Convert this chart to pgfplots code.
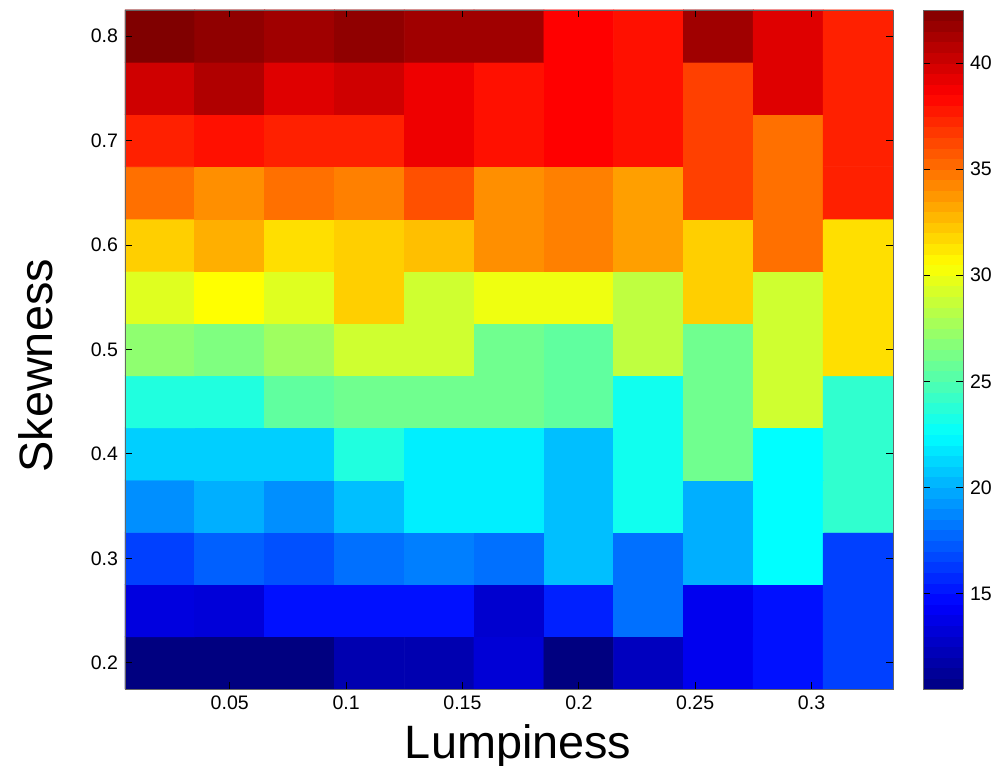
\documentclass[border=0pt]{standalone}
\usepackage{fontspec}
\setmainfont{Liberation Sans}
\usepackage{pgfplots}
\pgfplotsset{compat=1.18}

\begin{document}
\begin{tikzpicture}
\begin{axis}[
    name=ax, at={(0,0)}, anchor=south west,
    width=384bp, height=339.5bp, scale only axis,
    xmin=0.005, xmax=0.335, ymin=0.175, ymax=0.825,
    enlargelimits=false,
    axis on top,
    colormap/jet,
    point meta min=10.5, point meta max=42.5,
    xtick={0.05,0.1,0.15,0.2,0.25,0.3},
    ytick={0.2,0.3,0.4,0.5,0.6,0.7,0.8},
    scaled ticks=false,
    tick align=inside, major tick length=3.5bp,
    axis line style={black!60},
    tick style={black, line width=0.5pt},
    /pgf/number format/fixed,
    /pgf/number format/precision=2,
    /pgf/number format/assume math mode=true,
    tick label style={font=\fontsize{9.8}{11}\selectfont},
    xlabel={Lumpiness}, ylabel={Skewness},
    label style={font=\fontsize{23.5}{26}\selectfont},
    xlabel style={at={(axis description cs:0.512,0)}, anchor=base, yshift=-34.5bp},
    ylabel style={at={([xshift=-36bp]axis description cs:0,0.476)}, anchor=base},
    colorbar sampled,
    colorbar style={
        samples=65,
        at={(parent axis.north east)}, anchor=north west, xshift=6.5bp,
        width=20bp,
        ytick={15,20,25,30,35,40},
        scaled ticks=false,
        ytick pos=both, yticklabel pos=right,
        tick align=inside, major tick length=3.5bp,
        axis line style={black!60},
        axis on top,
        /pgf/number format/fixed,
        /pgf/number format/assume math mode=true,
        yticklabel style={font=\fontsize{9.8}{11}\selectfont},
    },
]
\addplot [matrix plot*, mesh/cols=11, point meta=\thisrow{z}] table [row sep=\\] {
x y z\\
0.02 0.20 10.5\\ 0.05 0.20 10.5\\ 0.08 0.20 10.5\\ 0.11 0.20 12.0\\ 0.14 0.20 12.0\\ 0.17 0.20 13.2\\ 0.20 0.20 10.5\\ 0.23 0.20 12.5\\ 0.26 0.20 14.0\\ 0.29 0.20 15.0\\ 0.32 0.20 16.5\\
0.02 0.25 13.5\\ 0.05 0.25 13.3\\ 0.08 0.25 15.0\\ 0.11 0.25 15.0\\ 0.14 0.25 15.0\\ 0.17 0.25 13.0\\ 0.20 0.25 15.5\\ 0.23 0.25 18.0\\ 0.26 0.25 14.0\\ 0.29 0.25 15.0\\ 0.32 0.25 16.5\\
0.02 0.30 16.5\\ 0.05 0.30 17.5\\ 0.08 0.30 17.0\\ 0.11 0.30 18.0\\ 0.14 0.30 18.5\\ 0.17 0.30 18.0\\ 0.20 0.30 20.5\\ 0.23 0.30 18.0\\ 0.26 0.30 20.0\\ 0.29 0.30 22.5\\ 0.32 0.30 16.5\\
0.02 0.35 19.0\\ 0.05 0.35 20.0\\ 0.08 0.35 19.0\\ 0.11 0.35 20.5\\ 0.14 0.35 22.0\\ 0.17 0.35 22.0\\ 0.20 0.35 20.5\\ 0.23 0.35 23.0\\ 0.26 0.35 20.0\\ 0.29 0.35 22.5\\ 0.32 0.35 24.0\\
0.02 0.40 21.0\\ 0.05 0.40 21.0\\ 0.08 0.40 21.0\\ 0.11 0.40 23.5\\ 0.14 0.40 22.0\\ 0.17 0.40 22.0\\ 0.20 0.40 20.5\\ 0.23 0.40 23.0\\ 0.26 0.40 26.0\\ 0.29 0.40 22.5\\ 0.32 0.40 24.0\\
0.02 0.45 23.5\\ 0.05 0.45 23.5\\ 0.08 0.45 25.5\\ 0.11 0.45 26.0\\ 0.14 0.45 26.0\\ 0.17 0.45 26.0\\ 0.20 0.45 25.5\\ 0.23 0.45 23.0\\ 0.26 0.45 26.0\\ 0.29 0.45 29.0\\ 0.32 0.45 24.0\\
0.02 0.50 27.0\\ 0.05 0.50 26.5\\ 0.08 0.50 27.5\\ 0.11 0.50 29.0\\ 0.14 0.50 29.0\\ 0.17 0.50 26.0\\ 0.20 0.50 25.5\\ 0.23 0.50 28.5\\ 0.26 0.50 26.0\\ 0.29 0.50 29.0\\ 0.32 0.50 31.5\\
0.02 0.55 29.5\\ 0.05 0.55 30.5\\ 0.08 0.55 29.5\\ 0.11 0.55 32.0\\ 0.14 0.55 29.0\\ 0.17 0.55 30.0\\ 0.20 0.55 30.0\\ 0.23 0.55 28.5\\ 0.26 0.55 32.0\\ 0.29 0.55 29.0\\ 0.32 0.55 31.5\\
0.02 0.60 32.0\\ 0.05 0.60 33.0\\ 0.08 0.60 31.5\\ 0.11 0.60 32.0\\ 0.14 0.60 32.5\\ 0.17 0.60 34.0\\ 0.20 0.60 34.5\\ 0.23 0.60 33.5\\ 0.26 0.60 32.0\\ 0.29 0.60 35.0\\ 0.32 0.60 31.5\\
0.02 0.65 35.0\\ 0.05 0.65 34.0\\ 0.08 0.65 35.0\\ 0.11 0.65 34.5\\ 0.14 0.65 36.0\\ 0.17 0.65 34.0\\ 0.20 0.65 34.5\\ 0.23 0.65 33.5\\ 0.26 0.65 36.5\\ 0.29 0.65 35.0\\ 0.32 0.65 37.5\\
0.02 0.70 37.5\\ 0.05 0.70 38.0\\ 0.08 0.70 37.5\\ 0.11 0.70 37.5\\ 0.14 0.70 39.0\\ 0.17 0.70 38.0\\ 0.20 0.70 38.5\\ 0.23 0.70 38.0\\ 0.26 0.70 36.5\\ 0.29 0.70 35.0\\ 0.32 0.70 37.5\\
0.02 0.75 40.0\\ 0.05 0.75 41.0\\ 0.08 0.75 39.5\\ 0.11 0.75 40.0\\ 0.14 0.75 39.0\\ 0.17 0.75 38.0\\ 0.20 0.75 38.5\\ 0.23 0.75 38.0\\ 0.26 0.75 36.5\\ 0.29 0.75 39.5\\ 0.32 0.75 37.5\\
0.02 0.80 42.5\\ 0.05 0.80 42.0\\ 0.08 0.80 41.5\\ 0.11 0.80 42.0\\ 0.14 0.80 41.5\\ 0.17 0.80 41.5\\ 0.20 0.80 38.5\\ 0.23 0.80 38.0\\ 0.26 0.80 41.5\\ 0.29 0.80 39.5\\ 0.32 0.80 37.5\\
};
\end{axis}
\pgfresetboundingbox
\path (-62.5bp,-38.5bp) rectangle (441.5bp,344.5bp);
\end{tikzpicture}
\end{document}
